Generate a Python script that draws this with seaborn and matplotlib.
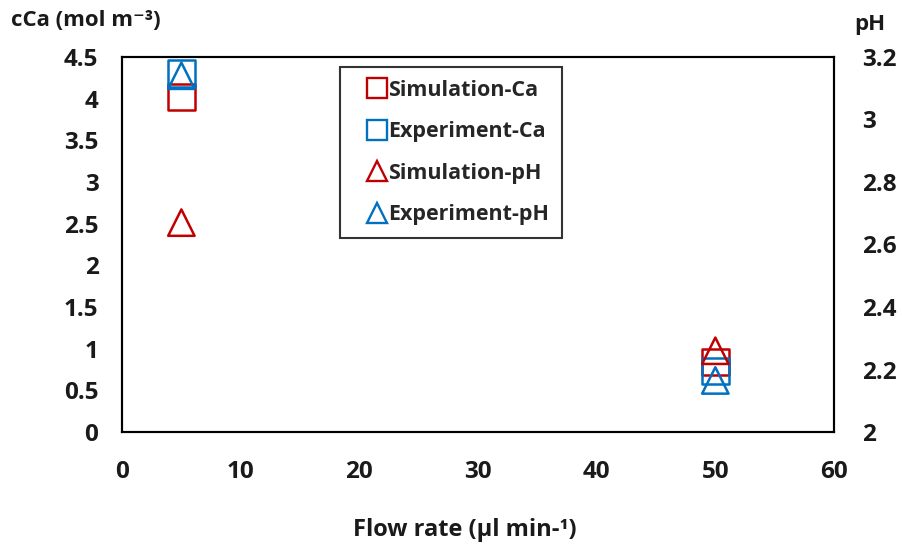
import matplotlib
matplotlib.use("Agg")
import matplotlib.pyplot as plt
import seaborn as sns
import pandas as pd
from matplotlib.lines import Line2D

flow_rate = [5, 50]
sim_ca = [4.02, 0.84]
exp_ca = [4.30, 0.73]
sim_ph = [2.67, 2.26]
exp_ph = [3.14, 2.165]

x_ticks = [0, 10, 20, 30, 40, 50, 60]
y_left_ticks = [0, 0.5, 1, 1.5, 2, 2.5, 3, 3.5, 4, 4.5]
y_right_ticks = [2, 2.2, 2.4, 2.6, 2.8, 3, 3.2]

RED = "#C00000"
BLUE = "#0070C0"

sns.set_theme(style="white")
plt.rcParams['font.family'] = ['Open Sans', 'DejaVu Sans']
plt.rcParams['font.weight'] = 'bold'

fig = plt.figure(figsize=(9.02, 5.49), dpi=100)
ax = fig.add_axes([0.1353, 0.2131, 0.7893, 0.6831])
ax2 = ax.twinx()

ms = 19
lw = 1.8
df_ca = pd.DataFrame({"x": flow_rate, "sim": sim_ca, "exp": exp_ca})
df_ph = pd.DataFrame({"x": flow_rate, "sim": sim_ph, "exp": exp_ph})

sns.scatterplot(data=df_ca, x="x", y="sim", ax=ax, marker="s", s=ms**2,
                facecolor="none", edgecolor=RED, linewidth=lw, zorder=3)
sns.scatterplot(data=df_ca, x="x", y="exp", ax=ax, marker="s", s=ms**2,
                facecolor="none", edgecolor=BLUE, linewidth=lw, zorder=3)
sns.scatterplot(data=df_ph, x="x", y="sim", ax=ax2, marker="^", s=ms**2,
                facecolor="none", edgecolor=RED, linewidth=lw, zorder=3)
sns.scatterplot(data=df_ph, x="x", y="exp", ax=ax2, marker="^", s=ms**2,
                facecolor="none", edgecolor=BLUE, linewidth=lw, zorder=3)

ax.set_xlim(0, 60)
ax.set_ylim(0, 4.5)
ax2.set_ylim(2, 3.2)
ax.set_xticks(x_ticks)
ax.set_yticks(y_left_ticks)
ax2.set_yticks(y_right_ticks)
ax.set_xticklabels([f"{v:g}" for v in x_ticks])
ax.set_yticklabels([f"{v:g}" for v in y_left_ticks])
ax2.set_yticklabels([f"{v:g}" for v in y_right_ticks])

for a in (ax, ax2):
    for s in a.spines.values():
        s.set_color("black")
        s.set_linewidth(1.5)
    a.tick_params(length=0, labelsize=17.5, colors="#1a1a1a")
    for lab in a.get_xticklabels() + a.get_yticklabels():
        lab.set_fontweight("bold")
ax.tick_params(axis="y", pad=17)
ax.tick_params(axis="x", pad=20)
ax2.tick_params(axis="y", pad=20)
ax.set_xlabel("")
ax.set_ylabel("")
ax2.set_ylabel("")
ax.grid(False)
ax2.grid(False)

fig.text(0.012, 0.962, "cCa (mol m⁻³)", fontsize=16, fontweight="bold",
         ha="left", va="center", color="#1a1a1a")
fig.text(0.964, 0.955, "pH", fontsize=16, fontweight="bold", ha="center", va="center",
         color="#1a1a1a")
fig.text(0.515, 0.035, "Flow rate (µl min-¹)", fontsize=17, fontweight="bold",
         ha="center", va="center", color="#1a1a1a")

handles = [
    Line2D([], [], marker="s", ls="", mfc="none", mec=RED, mew=1.7, ms=14, label="Simulation-Ca"),
    Line2D([], [], marker="s", ls="", mfc="none", mec=BLUE, mew=1.7, ms=14, label="Experiment-Ca"),
    Line2D([], [], marker="^", ls="", mfc="none", mec=RED, mew=1.7, ms=14, label="Simulation-pH"),
    Line2D([], [], marker="^", ls="", mfc="none", mec=BLUE, mew=1.7, ms=14, label="Experiment-pH"),
]
leg = ax2.legend(handles=handles, loc="upper left", bbox_to_anchor=(340/902, 1-67/549),
                 bbox_transform=fig.transFigure, frameon=True, fancybox=False,
                 edgecolor="black", prop={"size": 15.5, "weight": "bold"},
                 handlelength=2.2, handletextpad=-0.55, labelspacing=0.95,
                 borderpad=0.6, borderaxespad=0)
leg.get_frame().set_linewidth(1.5)
leg.set_zorder(5)

fig.savefig("out.png", dpi=100)
